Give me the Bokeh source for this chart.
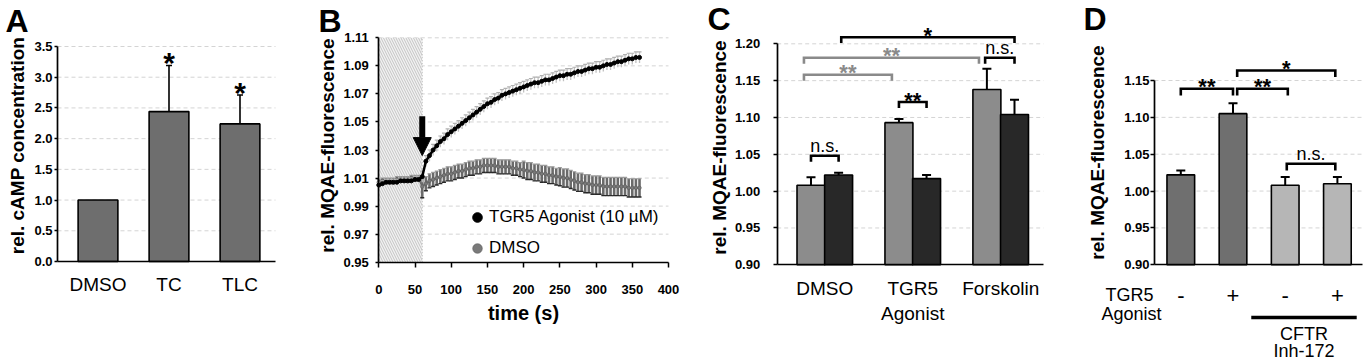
from bokeh.plotting import figure
from bokeh.models import (Range1d, FixedTicker, NumeralTickFormatter, Label,
                          Legend, LegendItem, Arrow, NormalHead, ColumnDataSource)
from bokeh.layouts import row
from bokeh.embed import file_html
from bokeh.resources import INLINE
from bokeh.core.properties import value

FONT = "Liberation Sans"

# ---------------- Panel A data ----------------
A_CATS = ["DMSO", "TC", "TLC"]
A_MEANS = [1.0, 2.44, 2.24]
A_ERR = [0.0, 0.75, 0.47]
A_SIG = ["", "*", "*"]
A_YTICKS = [0.0, 0.5, 1.0, 1.5, 2.0, 2.5, 3.0, 3.5]

# ---------------- Panel B data ----------------
B_TIME = [0, 5, 10, 15, 20, 25, 30, 35, 40, 45, 50, 55, 60, 65, 70, 75, 80, 85, 90, 95,
          100, 105, 110, 115, 120, 125, 130, 135, 140, 145, 150, 155, 160, 165, 170, 175,
          180, 185, 190, 195, 200, 205, 210, 215, 220, 225, 230, 235, 240, 245, 250, 255,
          260, 265, 270, 275, 280, 285, 290, 295, 300, 305, 310, 315, 320, 325, 330, 335,
          340, 345, 350, 355, 360]
B_AGONIST = [1.005, 1.006, 1.007, 1.007, 1.007, 1.007, 1.008, 1.008, 1.008, 1.008, 1.009, 1.009,
             1.011, 1.022, 1.026, 1.030, 1.033, 1.036, 1.038, 1.041, 1.043, 1.045, 1.047, 1.049,
             1.051, 1.053, 1.055, 1.057, 1.059, 1.061, 1.063, 1.064, 1.066, 1.067, 1.069, 1.070,
             1.071, 1.072, 1.073, 1.074, 1.075, 1.076, 1.077, 1.078, 1.078, 1.079, 1.080, 1.080,
             1.081, 1.082, 1.083, 1.083, 1.084, 1.084, 1.085, 1.086, 1.086, 1.087, 1.088, 1.088,
             1.089, 1.089, 1.090, 1.091, 1.091, 1.092, 1.093, 1.093, 1.094, 1.095, 1.095, 1.096,
             1.096]
B_AGONIST_ERR = [0.002, 0.002, 0.002, 0.002, 0.002, 0.002, 0.002, 0.002, 0.002, 0.002, 0.002, 0.002,
                 0.004, 0.004, 0.004, 0.004, 0.004, 0.004, 0.004, 0.004, 0.004, 0.004, 0.004, 0.004,
                 0.004, 0.004, 0.004, 0.004, 0.004, 0.004, 0.004, 0.004, 0.004, 0.004, 0.004, 0.004,
                 0.004, 0.004, 0.004, 0.004, 0.004, 0.004, 0.004, 0.004, 0.004, 0.004, 0.004, 0.004,
                 0.004, 0.004, 0.004, 0.004, 0.004, 0.004, 0.004, 0.004, 0.004, 0.004, 0.004, 0.004,
                 0.004, 0.004, 0.004, 0.004, 0.004, 0.004, 0.004, 0.004, 0.004, 0.004, 0.004, 0.004,
                 0.004]
B_DMSO = [1.007, 1.008, 1.008, 1.008, 1.008, 1.009, 1.009, 1.009, 1.009, 1.010, 1.010, 1.010,
          1.004, 1.006, 1.008, 1.009, 1.010, 1.011, 1.012, 1.013, 1.013, 1.014, 1.015, 1.015,
          1.016, 1.017, 1.017, 1.018, 1.018, 1.019, 1.019, 1.019, 1.019, 1.018, 1.018, 1.018,
          1.018, 1.017, 1.017, 1.016, 1.016, 1.015, 1.015, 1.014, 1.014, 1.013, 1.013, 1.012,
          1.012, 1.011, 1.011, 1.010, 1.010, 1.009, 1.008, 1.007, 1.007, 1.006, 1.006, 1.005,
          1.005, 1.005, 1.004, 1.004, 1.004, 1.004, 1.004, 1.004, 1.004, 1.003, 1.003, 1.003,
          1.003]
B_DMSO_ERR = [0.002, 0.002, 0.002, 0.002, 0.002, 0.002, 0.002, 0.002, 0.002, 0.002, 0.002, 0.002,
              0.008, 0.005, 0.005, 0.005, 0.005, 0.005, 0.005, 0.005, 0.005, 0.005, 0.005, 0.005,
              0.005, 0.005, 0.005, 0.005, 0.005, 0.005, 0.005, 0.005, 0.005, 0.005, 0.005, 0.005,
              0.005, 0.005, 0.005, 0.005, 0.006, 0.006, 0.006, 0.006, 0.006, 0.006, 0.006, 0.006,
              0.006, 0.006, 0.0065, 0.0065, 0.0065, 0.0065, 0.0065, 0.0065, 0.0065, 0.0065, 0.0065,
              0.0065, 0.0065, 0.0065, 0.0065, 0.0065, 0.0065, 0.0065, 0.0065, 0.0065, 0.0065,
              0.0065, 0.0065, 0.0065, 0.0065]
B_BASELINE_END = 60
B_ADDITION_TIME = 60
B_XTICKS = [0, 50, 100, 150, 200, 250, 300, 350, 400]
B_YTICKS = [0.95, 0.97, 0.99, 1.01, 1.03, 1.05, 1.07, 1.09, 1.11]
B_SERIES = ["TGR5 Agonist (10 µM)", "DMSO"]

# ---------------- Panel C data ----------------
C_GROUPS = ["DMSO", "TGR5\nAgonist", "Forskolin"]
C_GRAY = [1.008, 1.093, 1.138]
C_GRAY_ERR = [0.011, 0.005, 0.028]
C_BLACK = [1.022, 1.017, 1.104]
C_BLACK_ERR = [0.003, 0.005, 0.020]
C_YTICKS = [0.90, 0.95, 1.00, 1.05, 1.10, 1.15, 1.20]
# (bar i, bar j, shift i, shift j, level, label, colour) ; bars 0..5 = gray/black per group
C_BRACKETS = [
    (0, 1, 0.0, 0.0, 1.048, "n.s.", "#000000"),
    (2, 3, 0.0, 0.0, 1.121, "**", "#000000"),
    (0, 2, -0.08, -0.08, 1.158, "**", "#8a8a8a"),
    (0, 4, -0.08, -0.09, 1.181, "**", "#8a8a8a"),
    (4, 5, -0.02, 0.0, 1.181, "n.s.", "#000000"),
    (1, 5, 0.03, 0.0, 1.209, "*", "#000000"),
]

# ---------------- Panel D data ----------------
D_AGONIST = ["-", "+", "-", "+"]
D_MEANS = [1.022, 1.105, 1.008, 1.010]
D_ERR = [0.006, 0.014, 0.011, 0.009]
D_COLORS = ["#6f6f6f", "#6f6f6f", "#b6b6b6", "#b6b6b6"]
D_YTICKS = [0.90, 0.95, 1.00, 1.05, 1.10, 1.15]
D_BRACKETS = [
    (0, 1, 0.0, 0.0, 1.1387, "**", "#000000"),
    (1, 2, 0.08, 0.05, 1.1387, "**", "#000000"),
    (1, 3, 0.08, -0.04, 1.1636, "*", "#000000"),
    (2, 3, 0.03, -0.04, 1.037, "n.s.", "#000000"),
]

H = 364
GRID = "#d4d4d4"


def base_fig(width, xr, yr, xaxis_at, yaxis_at, xbounds, ybounds):
    """Frame covers the whole canvas; axes are pinned at fixed data locations."""
    p = figure(width=width, height=H, x_range=Range1d(*xr), y_range=Range1d(*yr),
               output_backend="svg", toolbar_location=None,
               min_border_left=0, min_border_right=0, min_border_top=0, min_border_bottom=0)
    p.outline_line_color = None
    p.background_fill_color = "white"
    p.border_fill_color = "white"
    p.xgrid.visible = False
    p.ygrid.visible = False
    p.xaxis.fixed_location = xaxis_at
    p.yaxis.fixed_location = yaxis_at
    p.xaxis.bounds = xbounds
    p.yaxis.bounds = ybounds
    for ax in p.axis:
        ax.axis_line_color = "black"
        ax.axis_line_width = 1.7
        ax.minor_tick_line_color = None
        ax.major_tick_line_color = "black"
        ax.major_tick_line_width = 1.5
        ax.major_tick_in = 0
        ax.major_tick_out = 4
        ax.major_label_text_font = FONT
        ax.major_label_text_color = "black"
        ax.axis_label_text_color = "black"
    return p


def grid_lines(p, ticks, x0, x1):
    gy = [t for t in ticks[1:]]
    p.segment(x0=[x0] * len(gy), y0=gy, x1=[x1] * len(gy), y1=gy, line_color=GRID,
              line_dash="4 3", line_width=1)


def add_label(p, x, y, text, size, bold=True, angle=0, align="center", baseline="middle"):
    p.add_layout(Label(x=x, y=y, x_units="screen", y_units="screen", text=text,
                       angle=angle, angle_units="deg", text_align=align, text_baseline=baseline,
                       text_font=FONT, text_font_size=f"{size}px",
                       text_font_style="bold" if bold else "normal", text_color="black"))


def draw_brackets(p, bar_x, brackets, drop):
    for (i, j, di, dj, lvl, lab, col) in brackets:
        x0 = bar_x[i] + di
        x1 = bar_x[j] + dj
        p.line([x0, x0, x1, x1], [lvl - drop, lvl, lvl, lvl - drop], line_color=col,
               line_width=2.6, line_join="miter")
        star = "*" in lab
        p.text(x=[(x0 + x1) / 2], y=[lvl], text=[lab], text_font=value(FONT),
               text_font_size="22px" if star else "18px",
               text_font_style="bold" if star else "normal",
               text_align="center", text_baseline="alphabetic",
               y_offset=-2 if star else -10, text_color=col)


def error_bars(p, xs, tops, errs, cap=9):
    hi = [t + e for t, e in zip(tops, errs)]
    p.segment(x0=xs, y0=tops, x1=xs, y1=hi, line_color="black", line_width=2)
    p.scatter(x=xs, y=hi, marker="dash", size=cap, line_color="black", line_width=2)


# ================= Panel A =================
a_x = list(range(len(A_CATS)))
pa = base_fig(310, (-1.3732, 2.993), (-1.6767, 4.2488), 0.0, -0.5704, (-0.5704, 2.5), (0.0, 3.5))
grid_lines(pa, A_YTICKS, -0.5704, 2.5)
pa.vbar(x=a_x, top=A_MEANS, bottom=0, width=0.56, fill_color="#6e6e6e", line_color="black", line_width=1.6)
a_hi = [m + e for m, e in zip(A_MEANS, A_ERR)]
pa.segment(x0=a_x[1:], y0=A_MEANS[1:], x1=a_x[1:], y1=a_hi[1:], line_color="black", line_width=1.6)
pa.scatter(x=a_x[1:], y=a_hi[1:], marker="dash", size=6, line_color="black", line_width=1.6)
pa.text(x=a_x, y=a_hi, text=A_SIG, text_font=value(FONT), text_font_size="30px",
        text_font_style="bold", text_align="center", text_baseline="alphabetic", y_offset=-3)
pa.yaxis.ticker = FixedTicker(ticks=A_YTICKS)
pa.yaxis.formatter = NumeralTickFormatter(format="0.0")
pa.yaxis.major_label_text_font_size = "13px"
pa.yaxis.major_label_text_font_style = "bold"
pa.yaxis.major_label_standoff = 2
pa.yaxis.major_tick_out = 3
pa.xaxis.ticker = FixedTicker(ticks=a_x)
pa.xaxis.major_label_overrides = {i: c for i, c in zip(a_x, A_CATS)}
pa.xaxis.major_tick_line_color = None
pa.xaxis.major_label_text_font_size = "19px"
pa.xaxis.major_label_standoff = 8
add_label(pa, 17, 219, "rel. cAMP concentration", 19, angle=90)
add_label(pa, 5, 344, "A", 32, align="left")

# ================= Panel B =================
pb = base_fig(390, (-94.3, 444.2), (0.87706, 1.1366), 0.95, 0, (0, 400), (0.95, 1.11))
grid_lines(pb, B_YTICKS, 0, 400)
pb.quad(left=[0], right=[B_BASELINE_END], bottom=[0.95], top=[1.11], fill_color="#f2f2f2",
        line_color=None, hatch_pattern="\\", hatch_color="#b8b8b8", hatch_scale=5, hatch_weight=0.8)
pb.line([B_BASELINE_END, B_BASELINE_END], [0.95, 1.11], line_color="#b8b8b8", line_dash="1 2", line_width=1)
src = ColumnDataSource(dict(
    t=B_TIME, ag=B_AGONIST, dm=B_DMSO,
    ag_lo=[v - e for v, e in zip(B_AGONIST, B_AGONIST_ERR)],
    ag_hi=[v + e for v, e in zip(B_AGONIST, B_AGONIST_ERR)],
    dm_lo=[v - e for v, e in zip(B_DMSO, B_DMSO_ERR)],
    dm_hi=[v + e for v, e in zip(B_DMSO, B_DMSO_ERR)],
))
pb.segment(x0="t", y0="dm_lo", x1="t", y1="dm_hi", source=src, line_color="#6a6a6a", line_width=2.6)
pb.scatter(x="t", y="dm_lo", source=src, marker="dash", size=4, line_color="#2a2a2a", line_width=1.4)
pb.scatter(x="t", y="dm_hi", source=src, marker="dash", size=4, line_color="#9a9a9a", line_width=1.2)
pb.line(x="t", y="dm", source=src, line_color="#6e6e6e", line_width=2)
r_dm = pb.scatter(x="t", y="dm", source=src, size=3.5, fill_color="#7a7a7a", line_color="#5a5a5a", line_width=0.6)
pb.segment(x0="t", y0="ag_lo", x1="t", y1="ag_hi", source=src, line_color="#c0c0c0", line_width=1.3)
pb.scatter(x="t", y="ag_hi", source=src, marker="dash", size=4, line_color="#b0b0b0", line_width=1.2)
pb.line(x="t", y="ag", source=src, line_color="black", line_width=2.5)
r_ag = pb.scatter(x="t", y="ag", source=src, size=4, fill_color="black", line_color="black")
pb.add_layout(Arrow(end=NormalHead(size=18, fill_color="black", line_color="black", line_width=1),
                    x_start=B_ADDITION_TIME, y_start=1.054, x_end=B_ADDITION_TIME, y_end=1.026,
                    line_color="black", line_width=6))
legend = Legend(items=[LegendItem(label=B_SERIES[0], renderers=[r_ag]),
                       LegendItem(label=B_SERIES[1], renderers=[r_dm])],
                location=(155, 104), orientation="vertical", background_fill_alpha=0,
                border_line_color=None, label_text_font=FONT, label_text_font_size="17px",
                label_text_color="black",
                glyph_width=24, glyph_height=24, label_height=24, spacing=7, padding=0,
                margin=0, label_standoff=0)
pb.add_layout(legend)
pb.xaxis.ticker = FixedTicker(ticks=B_XTICKS)
pb.yaxis.ticker = FixedTicker(ticks=B_YTICKS)
pb.yaxis.formatter = NumeralTickFormatter(format="0.00")
for ax in pb.axis:
    ax.major_label_text_font_size = "13px"
    ax.major_label_text_font_style = "bold"
pb.yaxis.major_label_standoff = 7
pb.yaxis.major_tick_out = 3
pb.xaxis.major_tick_out = 5
pb.xaxis.major_label_standoff = 18
pb.xaxis.axis_label = "time (s)"
pb.xaxis.axis_label_text_font = FONT
pb.xaxis.axis_label_text_font_size = "20px"
pb.xaxis.axis_label_text_font_style = "bold"
pb.xaxis.axis_label_standoff = 4
add_label(pb, 17, 219, "rel. MQAE-fluorescence", 19, angle=90)
add_label(pb, 8, 344, "B", 32, align="left")

# ================= Panel C =================
pc = base_fig(365, (-1.4133, 2.7368), (0.76466, 1.2588), 0.90, -0.5412, (-0.5412, 2.4866), (0.90, 1.20))
grid_lines(pc, C_YTICKS, -0.5412, 2.4866)
c_idx = list(range(len(C_GROUPS)))
OFF = 0.157
c_gray_x = [i - OFF for i in c_idx]
c_black_x = [i + OFF for i in c_idx]
pc.vbar(x=c_gray_x, top=C_GRAY, bottom=0.90, width=0.318, fill_color="#8c8c8c", line_color="black", line_width=1.6)
pc.vbar(x=c_black_x, top=C_BLACK, bottom=0.90, width=0.318, fill_color="#282828", line_color="black", line_width=1.6)
error_bars(pc, c_gray_x, C_GRAY, C_GRAY_ERR)
error_bars(pc, c_black_x, C_BLACK, C_BLACK_ERR)
c_bar_x = []
for g, b in zip(c_gray_x, c_black_x):
    c_bar_x += [g, b]
draw_brackets(pc, c_bar_x, C_BRACKETS, 0.008)
pc.yaxis.ticker = FixedTicker(ticks=C_YTICKS)
pc.yaxis.formatter = NumeralTickFormatter(format="0.00")
pc.yaxis.major_label_text_font_size = "13px"
pc.yaxis.major_label_text_font_style = "bold"
pc.yaxis.major_label_standoff = 13
pc.xaxis.ticker = FixedTicker(ticks=c_idx)
pc.xaxis.major_label_overrides = {i: g for i, g in zip(c_idx, C_GROUPS)}
pc.xaxis.major_tick_line_color = None
pc.xaxis.major_label_text_font_size = "19px"
pc.xaxis.major_label_standoff = 9
add_label(pc, 19, 217, "rel. MQAE-fluorescence", 19, angle=90)
add_label(pc, 7, 346, "C", 32, align="left")

# ================= Panel D =================
pd_ = base_fig(302, (-2.2088, 3.5766), (0.76476, 1.2585), 0.90, -0.5038, (-0.5038, 3.475), (0.90, 1.15))
grid_lines(pd_, D_YTICKS, -0.5038, 3.475)
d_idx = list(range(len(D_MEANS)))
pd_.vbar(x=d_idx, top=D_MEANS, bottom=0.90, width=0.53, fill_color=D_COLORS, line_color="black", line_width=1.6)
error_bars(pd_, d_idx, D_MEANS, D_ERR)
draw_brackets(pd_, d_idx, D_BRACKETS, 0.009)
pd_.xaxis.ticker = FixedTicker(ticks=d_idx)
pd_.xaxis.major_label_overrides = {i: s for i, s in zip(d_idx, D_AGONIST)}
pd_.xaxis.major_tick_line_color = None
pd_.xaxis.major_label_text_font_size = "22px"
pd_.xaxis.major_label_standoff = 19
pd_.yaxis.ticker = FixedTicker(ticks=D_YTICKS)
pd_.yaxis.formatter = NumeralTickFormatter(format="0.00")
pd_.yaxis.major_label_text_font_size = "13px"
pd_.yaxis.major_label_text_font_style = "bold"
pd_.yaxis.major_label_standoff = 1
pd_.segment(x0=[1.35], y0=[0.8285], x1=[3.37], y1=[0.8285], line_color="black", line_width=3.5)
pd_.text(x=[2.36, 2.36], y=[0.8055, 0.7835], text=["CFTR", "Inh-172"], text_font=value(FONT),
         text_font_size="18px", text_align="center", text_baseline="middle")
add_label(pd_, 64, 70, "TGR5", 18, bold=False)
add_label(pd_, 66, 51, "Agonist", 18, bold=False)
add_label(pd_, 32, 212, "rel. MQAE-fluorescence", 19, angle=90)
add_label(pd_, 18, 346, "D", 32, align="left")

layout = row(pa, pb, pc, pd_, spacing=0)
open("out.html", "w", encoding="utf-8").write(file_html(layout, INLINE))
